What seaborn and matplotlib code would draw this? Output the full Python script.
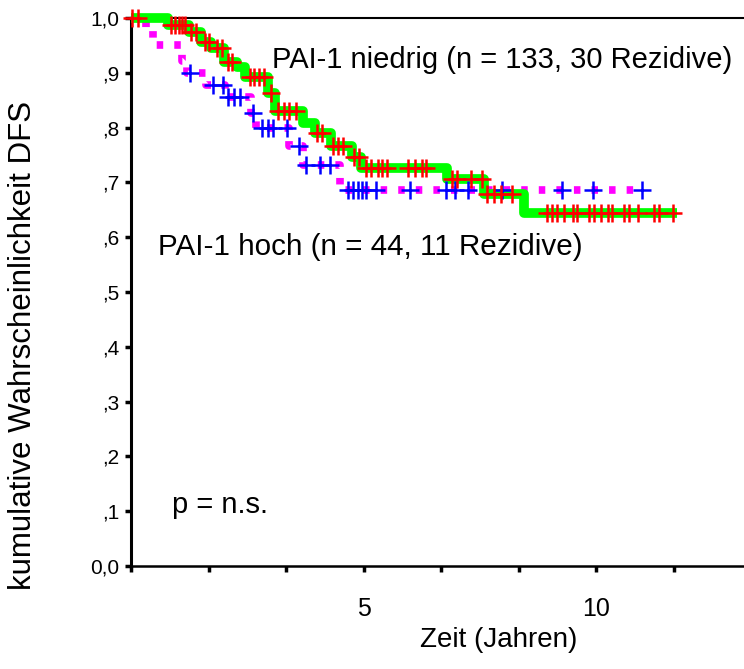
import numpy as np
import pandas as pd
import matplotlib
matplotlib.use("Agg")
import matplotlib.pyplot as plt
import seaborn as sns

# ---------------- data ----------------
# PAI-1 niedrig: step times (years) and survival levels
times_niedrig = [0.0, 0.80, 1.25, 1.50, 1.72, 2.00, 2.28, 2.45, 2.95, 3.10, 3.70, 3.95,
                 4.30, 4.75, 4.95, 6.80, 7.60, 8.45]
surv_niedrig = [1.0, 0.987, 0.974, 0.956, 0.945, 0.920, 0.910, 0.892, 0.863, 0.830, 0.808,
                0.790, 0.766, 0.746, 0.726, 0.706, 0.678, 0.644]
end_niedrig = 11.75
censor_niedrig = [0.02, 0.15, 0.86, 0.95, 1.03, 1.10, 1.17, 1.30, 1.40, 1.60, 1.68, 1.85,
                  1.95, 2.08, 2.18, 2.55, 2.65, 2.75, 2.85, 3.00, 3.15, 3.28, 3.40, 3.55,
                  4.00, 4.10, 4.35, 4.45, 4.55, 4.80, 4.90, 5.05, 5.15, 5.30, 5.40, 5.50,
                  5.95, 6.10, 6.25, 6.35, 6.90, 7.00, 7.30, 7.55, 7.65, 7.80, 7.95, 8.20,
                  8.95, 9.05, 9.15, 9.30, 9.50, 9.60, 9.85, 9.95, 10.10, 10.25, 10.35,
                  10.60, 10.70, 10.90, 11.25, 11.35, 11.65]

# PAI-1 hoch
times_hoch = [0.0, 0.32, 0.48, 1.10, 1.20, 1.62, 2.02, 2.58, 2.68, 3.40, 3.70, 4.50]
surv_hoch = [1.0, 0.977, 0.950, 0.922, 0.900, 0.878, 0.855, 0.826, 0.800, 0.766, 0.732, 0.686]
end_hoch = 10.99
censor_hoch = [1.27, 1.76, 1.98, 2.09, 2.22, 2.34, 2.62, 2.82, 2.95, 3.05, 3.35, 3.62,
               3.76, 4.06, 4.28, 4.67, 4.77, 4.88, 4.97, 5.05, 5.27, 6.00, 6.77, 6.97,
               7.25, 7.98, 9.27, 9.94, 10.99]

x_ticks = [0.0, 5 / 3, 10 / 3, 5.0, 20 / 3, 25 / 3, 10.0, 35 / 3]
x_ticklabels = ["", "", "", "5", "", "", "10", ""]
y_ticks = [0.0, 0.1, 0.2, 0.3, 0.4, 0.5, 0.6, 0.7, 0.8, 0.9, 1.0]
y_ticklabels = ["0,0", ",1", ",2", ",3", ",4", ",5", ",6", ",7", ",8", ",9", "1,0"]

label_niedrig = "PAI-1 niedrig (n = 133, 30 Rezidive)"
label_hoch = "PAI-1 hoch (n = 44, 11 Rezidive)"
label_p = "p = n.s."


def curve_frame(times, surv, end):
    t = list(times) + [end]
    s = list(surv) + [surv[-1]]
    return pd.DataFrame({"t": t, "s": s})


def censor_frame(times, surv, cens):
    idx = np.searchsorted(np.asarray(times), np.asarray(cens), side="right") - 1
    return pd.DataFrame({"t": cens, "s": np.asarray(surv)[idx]})


sns.set_style("white")
plt.rcParams["font.family"] = ["Liberation Sans", "DejaVu Sans"]
plt.rcParams["text.color"] = "black"
plt.rcParams["axes.labelcolor"] = "black"
plt.rcParams["xtick.color"] = "black"
plt.rcParams["ytick.color"] = "black"

W, H = 744, 669
fig = plt.figure(figsize=(W / 100, H / 100), dpi=100)
ax = fig.add_axes([131 / W, 103 / H, 613 / W, 548 / H])

df_n = curve_frame(times_niedrig, surv_niedrig, end_niedrig)
df_h = curve_frame(times_hoch, surv_hoch, end_hoch)
cn = censor_frame(times_niedrig, surv_niedrig, censor_niedrig)
ch = censor_frame(times_hoch, surv_hoch, censor_hoch)

sns.lineplot(data=df_n, x="t", y="s", ax=ax, color="#00ff00", linewidth=7,
             drawstyle="steps-post", estimator=None, solid_capstyle="butt",
             clip_on=False, zorder=3)
sns.lineplot(data=df_h, x="t", y="s", ax=ax, color="#ff00ff", linewidth=5.5,
             drawstyle="steps-post", estimator=None, dashes=False,
             clip_on=False, zorder=2)
ax.lines[-1].set_linestyle((0, (0.85, 1.45)))
ax.lines[-1].set_dash_capstyle("butt")

sns.scatterplot(data=cn, x="t", y="s", ax=ax, marker="+", color="#ff0000", s=160,
                linewidth=1.8, clip_on=False, zorder=5)
sns.scatterplot(data=ch, x="t", y="s", ax=ax, marker="+", color="#0000ff", s=160,
                linewidth=1.8, clip_on=False, zorder=4)

ax.set_xlim(0, 13.18)
ax.set_ylim(0, 1.0)
ax.set_xticks(x_ticks)
ax.set_xticklabels(x_ticklabels)
ax.set_yticks(y_ticks)
ax.set_yticklabels(y_ticklabels)

ax.tick_params(axis="x", direction="out", length=4, width=2.5, color="black",
               labelsize=18, pad=18, bottom=True, labelcolor="black")
ax.tick_params(axis="y", direction="out", length=4.5, width=2.5, color="black",
               labelsize=15, pad=4, left=True, labelcolor="black")

for side in ["left", "bottom", "top"]:
    ax.spines[side].set_visible(True)
    ax.spines[side].set_color("black")
ax.spines["right"].set_visible(False)
ax.spines["left"].set_linewidth(2.2)
ax.spines["bottom"].set_linewidth(1.8)
ax.spines["top"].set_linewidth(1.5)

ax.set_xlabel("Zeit (Jahren)", fontsize=20, color="black")
ax.set_ylabel("kumulative Wahrscheinlichkeit DFS", fontsize=22.5, color="black")
ax.xaxis.set_label_coords(0.600, -0.112)
ax.yaxis.set_label_coords(-0.152, 0.403)

ax.text(3.03, 0.909, label_niedrig, fontsize=21, ha="left", va="baseline", color="black")
ax.text(0.59, 0.5675, label_hoch, fontsize=21.3, ha="left", va="baseline", color="black")
ax.text(0.875, 0.0967, label_p, fontsize=21, ha="left", va="baseline", color="black")

legend = ax.get_legend()
if legend is not None:
    legend.remove()

fig.savefig("out.png", dpi=100)
